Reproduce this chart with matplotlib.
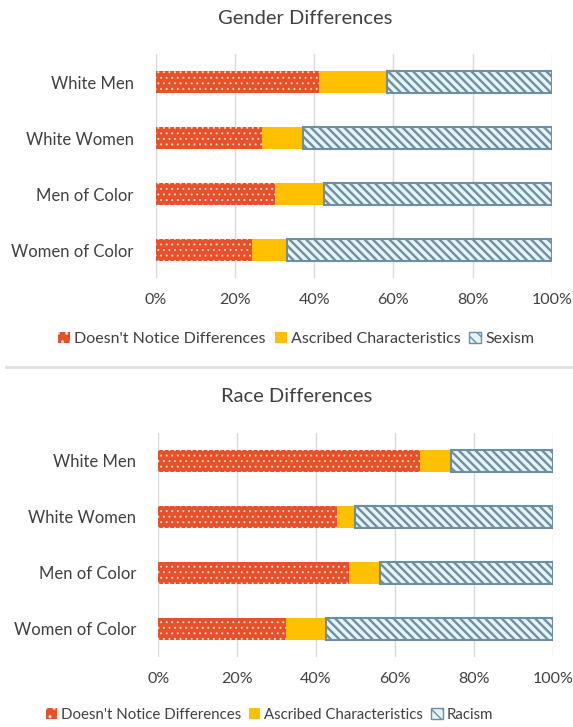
import numpy as np
import matplotlib
matplotlib.use("Agg")
import matplotlib.pyplot as plt
from matplotlib.patches import Patch
from matplotlib.lines import Line2D

plt.rcParams['font.family'] = ['Lato', 'DejaVu Sans']

groups = ['White Men', 'White Women', 'Men of Color', 'Women of Color']

# share of responses per group (percent), stacked left to right
gender_notice = [41.3, 26.8, 30.0, 24.3]
gender_ascribed = [17.0, 10.3, 12.4, 8.8]
gender_sexism = [41.7, 62.9, 57.6, 66.9]

race_notice = [66.3, 45.4, 48.4, 32.4]
race_ascribed = [7.9, 4.4, 7.8, 10.1]
race_racism = [25.8, 50.2, 43.8, 57.5]

RED = '#E8502A'
YELLOW = '#FFC000'
STRIPE_BG = '#E4F4FA'
STRIPE = '#6E8FA1'
TEXT = '#404040'

DOTS = '...'
STRIPES = '\\\\\\\\'


def stacked(ax, notice, ascribed, third, third_name):
    y = np.arange(len(groups))
    notice = np.array(notice)
    ascribed = np.array(ascribed)
    third = np.array(third)
    h = 0.4
    with plt.rc_context({'hatch.linewidth': 0.7}):
        ax.barh(y, notice, height=h, color=RED, edgecolor='#FFD9C8',
                linewidth=0, hatch=DOTS, zorder=3)
    ax.barh(y, ascribed, left=notice, height=h, color=YELLOW,
            linewidth=0, zorder=3)
    with plt.rc_context({'hatch.linewidth': 1.7}):
        ax.barh(y, third, left=notice + ascribed, height=h, color=STRIPE_BG,
                edgecolor=STRIPE, linewidth=1.5, hatch=STRIPES, zorder=3)

    ax.set_xlim(0, 100)
    ax.set_ylim(len(groups) - 0.5, -0.5)
    ax.set_yticks(y)
    ax.set_yticklabels(groups, fontsize=12, color=TEXT)
    ax.set_xticks(range(0, 101, 20))
    ax.set_xticklabels([f'{v}%' for v in range(0, 101, 20)],
                       fontsize=11.5, color=TEXT)
    ax.tick_params(length=0, axis='x', pad=11)
    ax.tick_params(length=0, axis='y', pad=16)
    ax.grid(axis='x', color='#D9D9D9', linewidth=1, zorder=0)
    for s in ax.spines.values():
        s.set_visible(False)

    with plt.rc_context({'hatch.linewidth': 0.7}):
        h_red = Patch(facecolor=RED, edgecolor='#FFD9C8', linewidth=0,
                      hatch='..')
    with plt.rc_context({'hatch.linewidth': 1.2}):
        h_str = Patch(facecolor=STRIPE_BG, edgecolor=STRIPE, linewidth=1,
                      hatch='\\\\\\')
    handles = [h_red, Patch(facecolor=YELLOW, linewidth=0), h_str]
    labels = ["Doesn't Notice Differences", 'Ascribed Characteristics',
              third_name]
    return handles, labels


fig = plt.figure(figsize=(5.73, 7.27), dpi=100)
ax1 = fig.add_axes([0.272, 0.6176, 0.691, 0.3081])
ax2 = fig.add_axes([0.276, 0.0963, 0.689, 0.3081])

h1, l1 = stacked(ax1, gender_notice, gender_ascribed, gender_sexism, 'Sexism')
h2, l2 = stacked(ax2, race_notice, race_ascribed, race_racism, 'Racism')

fig.text(0.532, 0.975, 'Gender Differences', fontsize=14.5, color=TEXT,
         ha='center', va='center')
fig.text(0.518, 0.454, 'Race Differences', fontsize=14.5, color=TEXT,
         ha='center', va='center')

leg_kw = dict(loc='center', ncol=3, frameon=False,
              handlelength=0.75, handleheight=0.75, handletextpad=0.25,
              columnspacing=0.55, labelcolor=TEXT)
fig.legend(h1, l1, bbox_to_anchor=(0.517, 0.534), fontsize=11.5, **leg_kw)
fig.legend(h2, l2, bbox_to_anchor=(0.47, 0.017), fontsize=10.8, **leg_kw)

# divider between the two panels
fig.add_artist(Line2D([0.01, 1.0], [0.495, 0.495], color='#E0E0E0',
                      linewidth=2, transform=fig.transFigure))

fig.savefig('out.png', dpi=100, facecolor='white')
